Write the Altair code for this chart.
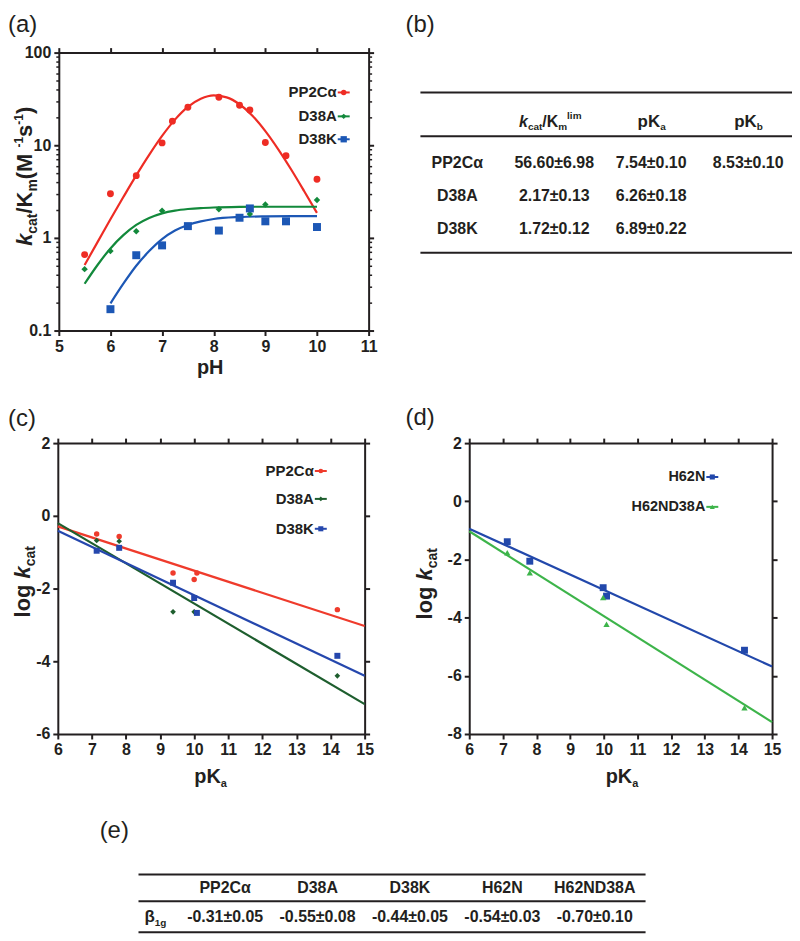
import altair as alt
import pandas as pd

# ---------------- data: panel (a) kcat/Km vs pH ----------------
a_ph_pp2c = [5.5, 6.0, 6.5, 7.0, 7.2, 7.5, 8.1, 8.5, 8.7, 9.0, 9.4, 10.0]
a_val_pp2c = [0.66, 3.0, 4.7, 10.6, 18.2, 25.7, 33.0, 27.0, 24.0, 10.7, 7.7, 4.3]
a_ph_d38a = [5.5, 6.0, 6.5, 7.0, 8.1, 8.7, 9.0, 10.0]
a_val_d38a = [0.46, 0.72, 1.18, 1.96, 2.04, 1.81, 2.29, 2.57]
a_ph_d38k = [6.0, 6.5, 7.0, 7.5, 8.1, 8.5, 8.7, 9.0, 9.4, 10.0]
a_val_d38k = [0.17, 0.65, 0.83, 1.34, 1.20, 1.65, 2.08, 1.51, 1.51, 1.31]

a_fit_ph_pp2c = [5.5, 5.75, 6.0, 6.25, 6.5, 6.75, 7.0, 7.25, 7.5, 7.75, 8.0, 8.25, 8.5, 8.75, 9.0, 9.25, 9.5, 9.75, 10.0]
a_fit_pp2c = [0.51, 0.90, 1.59, 2.76, 4.73, 7.87, 12.6, 18.9, 25.9, 31.7, 34.5, 32.9, 27.7, 20.8, 14.2, 9.03, 5.47, 3.21, 1.86]
a_fit_ph_d38a = [5.5, 5.75, 6.0, 6.25, 6.5, 6.75, 7.0, 7.25, 7.5, 7.75, 8.0, 8.5, 9.0, 9.5, 10.0]
a_fit_d38a = [0.32, 0.51, 0.77, 1.07, 1.38, 1.64, 1.84, 1.97, 2.05, 2.10, 2.13, 2.16, 2.17, 2.17, 2.17]
a_fit_ph_d38k = [6.0, 6.25, 6.5, 6.75, 7.0, 7.25, 7.5, 7.75, 8.0, 8.5, 9.0, 9.5, 10.0]
a_fit_d38k = [0.196, 0.32, 0.50, 0.72, 0.97, 1.20, 1.38, 1.51, 1.60, 1.68, 1.71, 1.72, 1.72]

# ---------------- data: panel (b) table ----------------
b_names = ["PP2Cα", "D38A", "D38K"]
b_kcat_km = ["56.60±6.98", "2.17±0.13", "1.72±0.12"]
b_pka = ["7.54±0.10", "6.26±0.18", "6.89±0.22"]
b_pkb = ["8.53±0.10", "", ""]

# ---------------- data: panel (c) log kcat vs pKa ----------------
c_pka_pp2c = [7.14, 7.8, 9.38, 10.0, 10.08, 14.2]
c_log_pp2c = [-0.50, -0.57, -1.57, -1.75, -1.57, -2.58]
c_pka_d38a = [7.14, 7.8, 9.38, 10.0, 14.2]
c_log_d38a = [-0.68, -0.70, -2.64, -2.64, -4.40]
c_pka_d38k = [7.14, 7.8, 9.38, 10.0, 10.08, 14.2]
c_log_d38k = [-0.96, -0.88, -1.84, -2.26, -2.67, -3.85]
c_fit_pka = [6.0, 15.0]
c_fit_pp2c = [-0.29, -3.03]
c_fit_d38a = [-0.20, -5.18]
c_fit_d38k = [-0.41, -4.40]

# ---------------- data: panel (d) ----------------
d_pka = [7.13, 7.8, 9.98, 10.08, 14.18]
d_log_h62n = [-1.39, -2.06, -2.97, -3.26, -5.12]
d_log_h62nd38a = [-1.77, -2.46, -3.31, -4.23, -7.10]
d_fit_pka = [6.0, 15.0]
d_fit_h62n = [-0.94, -5.68]
d_fit_h62nd38a = [-1.03, -7.59]

# ---------------- data: panel (e) table ----------------
e_names = ["PP2Cα", "D38A", "D38K", "H62N", "H62ND38A"]
e_beta = ["-0.31±0.05", "-0.55±0.08", "-0.44±0.05", "-0.54±0.03", "-0.70±0.10"]

# ---------------- style ----------------
INK = "#231f20"
FONT = "Liberation Sans"
W, H = 787, 927

RED_A, GREEN_A, BLUE_A = "#ee2c24", "#12893b", "#1c57b5"
RED_C, GREEN_C, BLUE_C = "#ef3b2c", "#1e5e2e", "#2547ad"
BLUE_D, GREEN_D = "#2248ab", "#3db44a"

ADV = {" ": 0.278, "(": 0.333, ")": 0.333, "-": 0.333, "/": 0.278, ".": 0.278, "±": 0.584,
       "a": 0.556, "b": 0.611, "c": 0.556, "g": 0.611, "i": 0.278, "k": 0.556, "l": 0.278,
       "m": 0.889, "o": 0.611, "p": 0.611, "s": 0.556, "t": 0.333, "K": 0.722, "M": 0.833,
       "H": 0.722, "β": 0.611}


def adv(s, size):
    return size * sum(ADV.get(ch, 0.556) for ch in s)


def txt(s, x, y, size, weight="bold", style="normal", align="left", baseline="alphabetic",
        angle=0, color=INK):
    return alt.Chart(pd.DataFrame({"t": [s]})).mark_text(
        align=align, baseline=baseline, fontSize=size, fontWeight=weight, fontStyle=style,
        font=FONT, angle=angle, color=color
    ).encode(x=alt.value(x), y=alt.value(y), text="t:N")


def rich(pieces, x, y, angle=0):
    out, pos = [], 0.0
    for s, size, style, shift in pieces:
        if angle == 270:
            out.append(txt(s, x + shift, y - pos, size, style=style, angle=270))
        else:
            out.append(txt(s, x + pos, y + shift, size, style=style))
        pos += adv(s, size)
    return out


def axis(orient, offset, values, labels=True, domain=True, tick=5):
    return alt.Axis(orient=orient, offset=offset, values=values, labels=labels, domain=domain,
                    domainColor=INK, domainWidth=2, ticks=True, tickColor=INK,
                    tickWidth=2 if tick >= 5 else 1.5, tickSize=tick,
                    labelFont=FONT, labelFontSize=16, labelFontWeight="bold", labelColor=INK,
                    labelPadding=3, labelOverlap=False, labelFlush=False, labelBound=False,
                    labelExpr="'' + datum.value", grid=False, title=None)


def pts(xs, ys, sx, sy, shape, color, size, xaxis=None, yaxis=None):
    df = pd.DataFrame({"x": xs, "y": ys})
    return alt.Chart(df).mark_point(shape=shape, filled=True, color=color, size=size, opacity=1).encode(
        x=alt.X("x:Q", scale=sx, axis=xaxis), y=alt.Y("y:Q", scale=sy, axis=yaxis))


def line(xs, ys, sx, sy, color, xaxis=None, yaxis=None, interp="linear"):
    df = pd.DataFrame({"x": xs, "y": ys})
    return alt.Chart(df).mark_line(color=color, strokeWidth=2.2, interpolate=interp).encode(
        x=alt.X("x:Q", scale=sx, axis=xaxis), y=alt.Y("y:Q", scale=sy, axis=yaxis))


def legend_item(name, x_text, y, color, shape, size, fsize=15):
    return [
        txt(name, x_text, y, fsize, align="right", baseline="middle"),
        alt.Chart(pd.DataFrame({"s": [name]})).mark_rule(color=color, strokeWidth=2).encode(
            x=alt.value(x_text + 1), x2=alt.value(x_text + 13), y=alt.value(y)),
        alt.Chart(pd.DataFrame({"s": [name]})).mark_point(shape=shape, filled=True, color=color,
                                                         size=size, opacity=1).encode(
            x=alt.value(x_text + 7), y=alt.value(y)),
    ]


def hrule(x1, x2, y):
    return alt.Chart(pd.DataFrame({"s": [0]})).mark_rule(color=INK, strokeWidth=2).encode(
        x=alt.value(x1), x2=alt.value(x2), y=alt.value(y))


layers = []

# ================= panel (a) =================
sa_x = alt.Scale(domain=[5, 11], range=[51, 362], nice=False, zero=False)
sa_y = alt.Scale(type="log", domain=[0.1, 100], range=[322, 43], nice=False)
a_xt = [5, 6, 7, 8, 9, 10, 11]
a_major = [0.1, 1, 10, 100]
a_minor = [m * d for d in (0.1, 1, 10) for m in range(2, 10)]

layers += [
    line(a_fit_ph_pp2c, a_fit_pp2c, sa_x, sa_y, RED_A, interp="monotone",
         xaxis=axis("top", -43, a_xt, labels=False), yaxis=axis("right", -425, a_major, labels=False)),
    line(a_fit_ph_d38a, a_fit_d38a, sa_x, sa_y, GREEN_A, interp="monotone",
         yaxis=axis("left", -51, a_minor, labels=False, domain=False, tick=3)),
    line(a_fit_ph_d38k, a_fit_d38k, sa_x, sa_y, BLUE_A, interp="monotone",
         yaxis=axis("right", -425, a_minor, labels=False, domain=False, tick=3)),
    pts(a_ph_pp2c, a_val_pp2c, sa_x, sa_y, "circle", RED_A, 48,
        xaxis=axis("bottom", -605, a_xt), yaxis=axis("left", -51, a_major)),
    pts(a_ph_d38a, a_val_d38a, sa_x, sa_y, "diamond", GREEN_A, 42),
    pts(a_ph_d38k, a_val_d38k, sa_x, sa_y, "square", BLUE_A, 64),
]
layers += legend_item("PP2Cα", 330, 83, RED_A, "circle", 30)
layers += legend_item("D38A", 330, 107, GREEN_A, "diamond", 30)
layers += legend_item("D38K", 330, 130, BLUE_A, "square", 40)
layers.append(txt("pH", 203, 366, 20, align="center"))
layers += rich([("k", 22, "italic", 0), ("cat", 14, "normal", 5), ("/K", 22, "normal", 0),
                ("m", 14, "normal", 5), (" (M", 22, "normal", 0), ("-1", 12, "normal", -9),
                ("s", 22, "normal", 0), ("-1", 12, "normal", -9), (")", 22, "normal", 0)],
               24, 237, angle=270)

# ================= panel (b) =================
layers += [hrule(414, 787, 83), hrule(414, 787, 127), hrule(414, 787, 244)]
b_rows = []
for i in range(3):
    for c, col in enumerate([b_names, b_kcat_km, b_pka, b_pkb]):
        if col[i]:
            b_rows.append({"col": c, "row": i + 1, "t": col[i]})
layers.append(
    alt.Chart(pd.DataFrame(b_rows)).mark_text(align="center", baseline="alphabetic", fontSize=16,
                                               fontWeight="bold", font=FONT, color=INK).encode(
        x=alt.X("col:Q", scale=alt.Scale(domain=[0, 3], range=[451, 743]), axis=None),
        y=alt.Y("row:Q", scale=alt.Scale(domain=[1, 3], range=[159, 225]), axis=None),
        text="t:N"))
layers += rich([("k", 16, "italic", 0), ("cat", 10, "normal", 3), ("/K", 16, "normal", 0),
                ("m", 10, "normal", 3), ("lim", 10, "normal", -8)], 513, 118)
layers += rich([("pK", 17, "normal", 0), ("a", 10, "normal", 3)], 632, 118)
layers += rich([("pK", 17, "normal", 0), ("b", 10, "normal", 3)], 729, 118)

# ================= panel (c) =================
sc_x = alt.Scale(domain=[6, 15], range=[50, 358], nice=False, zero=False)
sc_y = alt.Scale(domain=[-6, 2], range=[727, 435], nice=False, zero=False)
c_xt = list(range(6, 16))
c_yt = [-6, -4, -2, 0, 2]
layers += [
    line(c_fit_pka, c_fit_pp2c, sc_x, sc_y, RED_C,
         xaxis=axis("top", -435, c_xt, labels=False), yaxis=axis("right", -429, c_yt, labels=False)),
    line(c_fit_pka, c_fit_d38a, sc_x, sc_y, GREEN_C),
    line(c_fit_pka, c_fit_d38k, sc_x, sc_y, BLUE_C),
    pts(c_pka_pp2c, c_log_pp2c, sc_x, sc_y, "circle", RED_C, 30,
        xaxis=axis("bottom", -200, c_xt), yaxis=axis("left", -50, c_yt)),
    pts(c_pka_d38a, c_log_d38a, sc_x, sc_y, "diamond", GREEN_C, 32),
    pts(c_pka_d38k, c_log_d38k, sc_x, sc_y, "square", BLUE_C, 36),
]
layers += legend_item("PP2Cα", 307, 463, RED_C, "circle", 22)
layers += legend_item("D38A", 307, 491, GREEN_C, "diamond", 22)
layers += legend_item("D38K", 307, 521, BLUE_C, "square", 26)
layers += rich([("pK", 20, "normal", 0), ("a", 11, "normal", 4)], 187, 776)
layers += rich([("log ", 22, "normal", 0), ("k", 22, "italic", 0), ("cat", 14, "normal", 5)],
               22, 610, angle=270)

# ================= panel (d) =================
sd_x = alt.Scale(domain=[6, 15], range=[463, 767], nice=False, zero=False)
sd_y = alt.Scale(domain=[-8, 2], range=[727, 435], nice=False, zero=False)
d_xt = list(range(6, 16))
d_yt = [-8, -6, -4, -2, 0, 2]
layers += [
    line(d_fit_pka, d_fit_h62n, sd_x, sd_y, BLUE_D,
         xaxis=axis("top", -435, d_xt, labels=False), yaxis=axis("right", -20, d_yt, labels=False)),
    line(d_fit_pka, d_fit_h62nd38a, sd_x, sd_y, GREEN_D),
    pts(d_pka, d_log_h62n, sd_x, sd_y, "square", BLUE_D, 48,
        xaxis=axis("bottom", -200, d_xt), yaxis=axis("left", -463, d_yt)),
    pts(d_pka, d_log_h62nd38a, sd_x, sd_y, "triangle-up", GREEN_D, 40),
]
layers += legend_item("H62N", 700, 469, BLUE_D, "square", 26, fsize=14.5)
layers += legend_item("H62ND38A", 700, 499, GREEN_D, "triangle-up", 26, fsize=14.5)
layers += rich([("pK", 20, "normal", 0), ("a", 11, "normal", 4)], 600, 776)
layers += rich([("log ", 22, "normal", 0), ("k", 22, "italic", 0), ("cat", 14, "normal", 5)],
               426, 612, angle=270)

# ================= panel (e) =================
layers += [hrule(131, 640, 868), hrule(131, 640, 895), hrule(131, 640, 926)]
e_rows = []
for i, (n, v) in enumerate(zip(e_names, e_beta)):
    e_rows.append({"col": i + 1, "row": 0, "t": n})
    e_rows.append({"col": i + 1, "row": 1, "t": v})
layers.append(
    alt.Chart(pd.DataFrame(e_rows)).mark_text(align="center", baseline="alphabetic", fontSize=16,
                                               fontWeight="bold", font=FONT, color=INK).encode(
        x=alt.X("col:Q", scale=alt.Scale(domain=[1, 5], range=[218, 589]), axis=None),
        y=alt.Y("row:Q", scale=alt.Scale(domain=[0, 1], range=[887, 915.6]), axis=None),
        text="t:N"))
layers += rich([("β", 17, "normal", 0), ("1g", 10, "normal", 4)], 137, 915.6)

# ================= panel letters =================
for s, x, y in [("(a)", 0, 22), ("(b)", 399, 22), ("(c)", 0, 418), ("(d)", 399, 417), ("(e)", 92, 831)]:
    layers.append(txt(s, x, y, 24, weight="normal"))

chart = alt.layer(*layers).resolve_scale(
    x="independent", y="independent"
).resolve_axis(
    x="independent", y="independent"
).properties(
    width=W, height=H, autosize=alt.AutoSizeParams(type="none"), padding=0
).configure_view(stroke=None)

chart.save("out.html", embed_options={"renderer": "svg", "actions": False})
